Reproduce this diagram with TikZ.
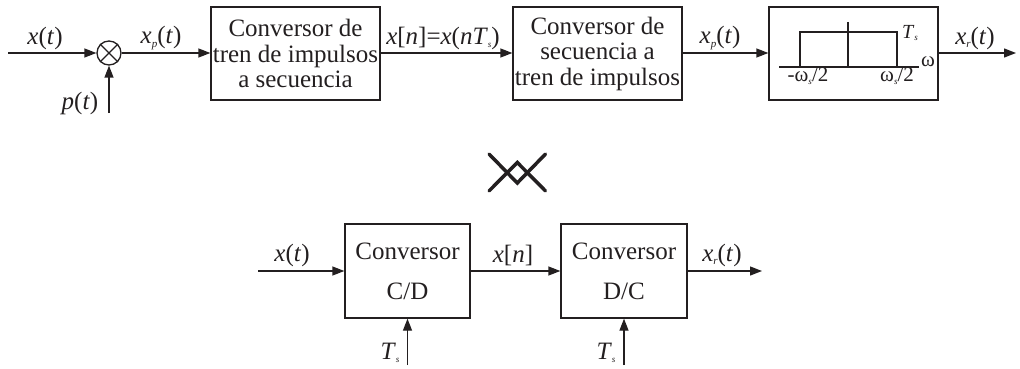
\documentclass[tikz,border=0pt]{standalone}
\usepackage{fontspec}
\setmainfont{Liberation Serif}
\usetikzlibrary{arrows.meta}
\definecolor{ink}{HTML}{231F20}
\newcommand\sbs[1]{\raisebox{-0.3ex}{\fontsize{11}{11}\selectfont\itshape #1}}
\newcommand\sbsm[1]{\raisebox{-0.3ex}{\fontsize{9}{9}\selectfont\itshape #1}}
\begin{document}
\begin{tikzpicture}[x=1pt,y=-1pt,
  line width=1.3pt, draw=ink, text=ink,
  sig/.style={-{Triangle[length=12pt,width=9pt]}},
  blk/.style={draw=ink, rectangle, inner sep=0pt, minimum width=169pt, minimum height=93pt, align=center, font=\fontsize{25}{25.5}\selectfont},
  blk2/.style={draw=ink, rectangle, inner sep=0pt, minimum width=125pt, minimum height=94pt, align=center, font=\fontsize{25}{40}\selectfont},
  lab/.style={inner sep=0pt, font=\fontsize{25}{25}\selectfont},
  slab/.style={inner sep=0pt, font=\fontsize{21}{21}\selectfont}
]
\path[use as bounding box] (0,0) rectangle (1020,369);

% top row
\coordinate (in1) at (8,53);
\node[draw=ink, circle, minimum size=24pt, inner sep=0pt] (m) at (109,53) {};
\draw (m.north west) -- (m.south east) (m.north east) -- (m.south west);
\coordinate (pin) at (109,113);
\node[blk] (b1) at (295.5,53.5) {Conversor de\\tren de impulsos\\a secuencia};
\node[blk] (b2) at (597.5,53.5) {Conversor de\\secuencia a\\tren de impulsos};
\node[blk, font=\normalsize] (b3) at (853.5,53.5) {};
\coordinate (out1) at (1016,53);

\draw[sig] (in1) -- (m);
\draw[sig] (pin) -- (m);
\draw[sig] (m) -- (b1.west |- m);
\draw[sig] (b1.east |- m) -- (b2.west |- m);
\draw[sig] (b2.east |- m) -- (b3.west |- m);
\draw[sig] (b3.east |- m) -- (out1);

\node[lab] (lx) at (45,38) {\textit{x}(\textit{t})};
\node[lab] (lp) at (80,103) {\textit{p}(\textit{t})};
\node[lab] (lxp) at (161,38) {\textit{x}\sbs{p}(\textit{t})};
\node[lab] (lxn) at (443,38) {\textit{x}[\textit{n}]=\textit{x}(\textit{nT}\sbsm{s})};
\node[lab] (lxp2) at (720,38) {\textit{x}\sbs{p}(\textit{t})};
\node[lab] (lxr) at (975,38) {\textit{x}\sbs{r}(\textit{t})};

% filter drawing
\draw (779,67) -- (919,67);
\draw (800,67) -- (800,32) -- (897,32) -- (897,67);
\draw (848,22) -- (848,67);
\node[slab] (wl) at (808,76) {-ω\sbsm{s}/2};
\node[slab] (wr) at (897,76) {ω\sbsm{s}/2};
\node[slab, font=\fontsize{20}{20}\selectfont] (tsf) at (910,33) {\textit{T}\sbsm{s}};
\node[slab] (w) at (928,62) {ω};

% equivalence symbol
\draw[line width=3.5pt, line cap=round, line join=miter]
  (489,154) -- (517.3,183) -- (545.5,154);
\draw[line width=3.5pt, line cap=round, line join=miter]
  (489,191) -- (517.3,162.5) -- (545.5,191);

% bottom row
\coordinate (in2) at (258,271);
\node[blk2] (cd) at (407.5,271) {Conversor\\C/D};
\node[blk2, minimum width=126pt] (dc) at (624,271) {Conversor\\D/C};
\coordinate (out2) at (762,271);
\coordinate (ts1) at (407.5,365);
\coordinate (ts2) at (624,365);

\draw[sig] (in2) -- (cd.west |- in2);
\draw[sig] (cd.east |- in2) -- (dc.west |- in2);
\draw[sig] (dc.east |- in2) -- (out2);
\draw[sig] (ts1) -- (cd.south);
\draw[sig] (ts2) -- (dc.south);

\node[lab] (lx2) at (292,255) {\textit{x}(\textit{t})};
\node[lab] (lxn2) at (513,255) {\textit{x}[\textit{n}]};
\node[lab] (lxr2) at (722,255) {\textit{x}\sbs{r}(\textit{t})};
\node[lab] (lts1) at (390,353) {\textit{T}\sbsm{s}};
\node[lab] (lts2) at (606,353) {\textit{T}\sbsm{s}};
\end{tikzpicture}
\end{document}
